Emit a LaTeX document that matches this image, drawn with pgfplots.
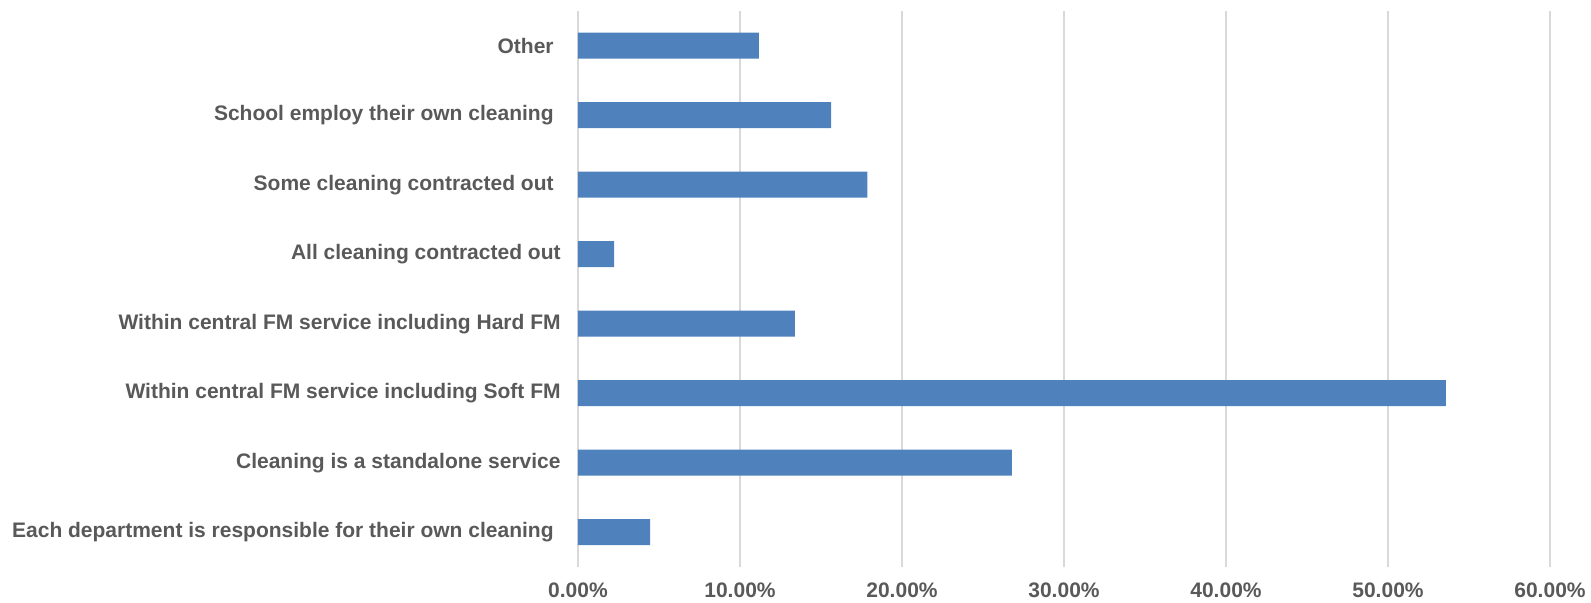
\documentclass[border=0pt]{standalone}
\usepackage{fontspec}
\setmainfont{Liberation Sans}
\usepackage{pgfplots}
\pgfplotsset{compat=1.18}
\definecolor{barblue}{HTML}{4F81BD}
\definecolor{gridgray}{HTML}{D9D9D9}
\definecolor{textgray}{HTML}{595959}

\newcommand{\tsp}{\rule{3.5bp}{0pt}}

\begin{document}
\begin{tikzpicture}
  \begin{axis}[
    at={(0,0)}, anchor=south west,
    scale only axis,
    width=486bp, height=278bp,
    xmin=0, xmax=60,
    ymin=-0.5, ymax=7.5,
    axis line style={draw=none},
    major tick length=0pt,
    xmajorgrids=true,
    grid style={gridgray, line width=1.1bp},
    xtick={0,10,...,60},
    ytick={0,...,7},
    yticklabels={
      {Each department is responsible for their own cleaning\tsp},
      {Cleaning is a standalone service},
      {Within central FM service including Soft FM},
      {Within central FM service including Hard FM},
      {All cleaning contracted out},
      {Some cleaning contracted out\tsp},
      {School employ their own cleaning\tsp},
      {Other\tsp}
    },
    /pgf/number format/assume math mode=true,
    xticklabel={\pgfmathprintnumber[fixed,fixed zerofill,precision=2]{\tick}\%},
    tick label style={font=\fontsize{10.5bp}{12bp}\selectfont\bfseries, text=textgray, inner sep=0pt},
    xticklabel style={anchor=base, yshift=-15bp},
    yticklabel style={anchor=east, xshift=-8.5bp},
    ]
    \addplot[xbar, bar width=13bp, fill=barblue, draw=none]
    coordinates {
      (4.46,0) (26.79,1) (53.57,2) (13.39,3) (2.23,4) (17.86,5) (15.63,6) (11.16,7)
    };
  \end{axis}
  \pgfresetboundingbox
  \path[use as bounding box] (-289bp,-18bp) rectangle (506.5bp,283.5bp);
\end{tikzpicture}
\end{document}
